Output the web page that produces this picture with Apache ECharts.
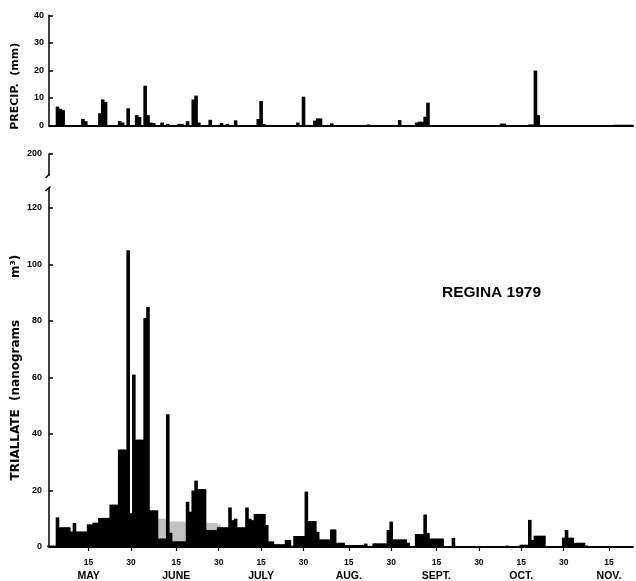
<!DOCTYPE html>
<html>
<head>
<meta charset="utf-8">
<script src="https://cdn.jsdelivr.net/npm/echarts@6/dist/echarts.min.js"></script>
<style>
html,body{margin:0;padding:0;background:#fff;}
#chart{width:636px;height:581px;}
</style>
</head>
<body>
<div id="chart"></div>
<script>
// Day-of-year of May 1, 1979
const START_DAY = 121;

// Daily triallate concentrations (ng m^-3), one value per day
const triMay  = [0.5,0.5,0.5,10.5,7,7,7,7,5.5,8.5,5.5,5.5,5.5,5.5,8,8,8.6,8.6,10.3,10.3,10.3,10.3,15,15,15,34.5,34.5,34.5,105,12,61];
const triJune = [38,38,38,81,85,13,13,13,3,3,3,47,5,2,2,2,2,2,16,12.5,20,23.5,20.5,20.5,20.5,6,6,6,6,7];
const triJuly = [7,7,7,14,9.5,10,7,7,7,14,10,9.5,11.7,11.7,11.7,11.7,7.8,2,2,1,1,1,1,2.5,2.5,0.5,3.9,3.9,3.9,3.9,19.6];
const triAug  = [9.2,9.2,9.2,5.4,2.7,2.7,2.7,2.7,6.2,6.2,1.5,1.5,1.5,0.7,0.7,0.7,0.7,0.7,0.7,0.7,1.2,0.4,0.4,1.3,1.3,1.3,1.3,1.3,6,9,2.7];
const triSept = [2.7,2.7,2.7,2.7,1.5,0.2,0.2,4.6,4.6,4.6,11.5,5,3,3,3,3,3,0.3,0.3,0.3,3.2,0.3,0.3,0.3,0.3,0.3,0.3,0.3,0.3,0.3];
const triOct  = [0.3,0.3,0.3,0.3,0.3,0.3,0.3,0.3,0.3,0.5,0.3,0.3,0.3,0.3,0.8,0.8,0.8,9.6,2.5,4,4,4,4,0,0,0,0,0,0,3.3,6];
const triNov  = [3.3,3.3,1.5,1.5,1.5,1.5,0.5,0.3,0.3,0.3,0.3,0.3,0.3,0.3,0.3,0.3,0.3,0.3,0.3,0.3,0.3,0.3,0.3];

// Stippled (lighter) portions: [day of year, value]
const triStipple = [[160,10],[161,10],[162,10],[164,9],[165,9],[166,9],[167,9],[168,9],[169,9],[177,8.5],[178,8.5],[179,8.5],[180,8.5],[181,8]];

// Daily precipitation (mm): [day of year, value]
const precip = [
  [124,6.8],[125,6],[126,5.5],[133,2.3],[134,1.5],[139,4.4],[140,9.4],[141,8.5],
  [146,1.5],[147,1],[149,6.2],[152,3.7],[153,3],[155,14.4],[156,3.7],[157,1],[158,0.8],
  [161,1],[163,0.5],[167,0.5],[168,0.5],[170,1.5],[172,9.4],[173,10.8],[174,1],
  [178,2],[182,0.8],[184,0.5],[187,1.8],[195,2.3],[196,8.8],[197,0.5],
  [209,1],[211,10.4],[215,1.7],[216,2.5],[217,2.5],[221,0.7],[234,0.3],
  [245,1.9],[251,1],[252,1.3],[253,1.3],[254,3.1],[255,8.2],
  [281,0.6],[282,0.6],[291,0.3],[292,0.3],[293,19.9],[294,3.7],
  [321,0.2],[322,0.2],[323,0.2],[324,0.2],[325,0.2],[326,0.2],[327,0.2]
];

// X-axis ticks (day of year) and their labels
const xTickDays   = [135,150,166,181,196,211,227,242,258,273,288,303,319];
const xTickLabels = ['15','30','15','30','15','30','15','30','15','30','15','30','15'];
const monthNames  = ['MAY','JUNE','JULY','AUG.','SEPT.','OCT.','NOV.'];

const precipTicks = [0,10,20,30,40];
const triTicks = [0,20,40,60,80,100,120];
const triUpperTicks = [200];

const triDaily = [].concat(triMay, triJune, triJuly, triAug, triSept, triOct, triNov)
  .map((v, i) => [START_DAY + i, v]);

const X_MIN = 121, X_MAX = 327.5;
const LEFT = 49, WIDTH = 584;
const FONT = 'Liberation Sans';
const BAR_W = 3.6;

function xAxisBase(gridIndex) {
  return {
    type: 'value', gridIndex: gridIndex, min: X_MIN, max: X_MAX,
    splitLine: {show: false},
    axisLine: {show: true, onZero: false, lineStyle: {color: '#000', width: 2}},
    axisTick: {show: false}, axisLabel: {show: false}
  };
}

const chart = echarts.init(document.getElementById('chart'), null, {renderer: 'canvas'});
chart.setOption({
  animation: false,
  backgroundColor: '#fff',
  title: {
    text: 'REGINA 1979', left: 442, top: 285, padding: 0,
    textStyle: {fontFamily: FONT, fontSize: 15.5, fontWeight: 'bold', color: '#000'}
  },
  grid: [
    {left: LEFT, top: 15.3, width: WIDTH, height: 110, outerBoundsMode: 'none', containLabel: false},
    {left: LEFT, top: 188.2, width: WIDTH, height: 358.8, outerBoundsMode: 'none', containLabel: false},
    {left: LEFT, top: 154, width: WIDTH, height: 21, outerBoundsMode: 'none', containLabel: false}
  ],
  xAxis: [
    xAxisBase(0),
    Object.assign(xAxisBase(1), {
      axisLine: {show: true, onZero: false, lineStyle: {color: '#000', width: 1.8}},
      axisTick: {show: true, customValues: xTickDays, length: 4, lineStyle: {color: '#000', width: 1.2}},
      axisLabel: {
        show: true, customValues: xTickDays, margin: 10,
        formatter: function (v) {
          const i = xTickDays.indexOf(Math.round(v));
          if (i < 0) return '';
          const t = xTickLabels[i];
          if (t === '15') return '{n|' + t + '}\n{m|' + monthNames[Math.floor(i / 2)] + '}';
          return '{n|' + t + '}';
        },
        rich: {
          n: {fontFamily: FONT, fontSize: 8.5, fontWeight: 'bold', color: '#000', lineHeight: 12},
          m: {fontFamily: FONT, fontSize: 10.5, fontWeight: 'bold', color: '#000', lineHeight: 15}
        }
      }
    }),
    Object.assign(xAxisBase(2), {show: false})
  ],
  yAxis: [
    {
      type: 'value', gridIndex: 0, min: 0, max: 40, interval: 10,
      name: 'PRECIP.  (mm)', nameLocation: 'middle', nameGap: 28, nameMoveOverlap: false,
      nameTextStyle: {fontFamily: 'DejaVu Sans', fontSize: 11, fontWeight: 'bold', color: '#000', padding: [0, 32, 0, 0]},
      splitLine: {show: false},
      axisLine: {show: true, lineStyle: {color: '#000', width: 1.5}},
      axisTick: {show: true, inside: true, length: 4, lineStyle: {color: '#000', width: 1.5}},
      axisLabel: {customValues: precipTicks, margin: 5, fontFamily: FONT, fontSize: 9, fontWeight: 'bold', color: '#000'}
    },
    {
      type: 'value', gridIndex: 1, min: 0, max: 127,
      name: 'TRIALLATE  (nanograms          m³)', nameLocation: 'middle', nameGap: 27, nameMoveOverlap: false,
      nameTextStyle: {fontFamily: 'DejaVu Sans', fontSize: 12, fontWeight: 'bold', color: '#000'},
      splitLine: {show: false},
      axisLine: {show: true, lineStyle: {color: '#000', width: 1.5}},
      axisTick: {show: true, inside: true, length: 4, customValues: triTicks, lineStyle: {color: '#000', width: 1.5}},
      axisLabel: {customValues: triTicks, margin: 7, fontFamily: FONT, fontSize: 9, fontWeight: 'bold', color: '#000'}
    },
    {
      type: 'value', gridIndex: 2, min: 192.6, max: 200,
      splitLine: {show: false},
      axisLine: {show: true, lineStyle: {color: '#000', width: 1.5}},
      axisTick: {show: true, inside: true, length: 4, customValues: triUpperTicks, lineStyle: {color: '#000', width: 1.5}},
      axisLabel: {customValues: triUpperTicks, margin: 7, fontFamily: FONT, fontSize: 9, fontWeight: 'bold', color: '#000'}
    }
  ],
  graphic: [
    {type: 'line', shape: {x1: 45.5, y1: 178, x2: 49.5, y2: 174}, style: {stroke: '#000', lineWidth: 1.5}},
    {type: 'line', shape: {x1: 45.5, y1: 191, x2: 50.5, y2: 186.5}, style: {stroke: '#000', lineWidth: 1.5}}
  ],
  series: [
    {
      type: 'bar', name: 'Precipitation', xAxisIndex: 0, yAxisIndex: 0,
      data: precip, barWidth: BAR_W, itemStyle: {color: '#000'}
    },
    {
      type: 'bar', name: 'Triallate (stippled)', xAxisIndex: 1, yAxisIndex: 1,
      data: triStipple, barWidth: BAR_W, barGap: '-100%', z: 1, itemStyle: {color: '#c2c2c2'}
    },
    {
      type: 'bar', name: 'Triallate', xAxisIndex: 1, yAxisIndex: 1,
      data: triDaily, barWidth: BAR_W, barGap: '-100%', z: 2, itemStyle: {color: '#000'}
    }
  ]
});
</script>
</body>
</html>
